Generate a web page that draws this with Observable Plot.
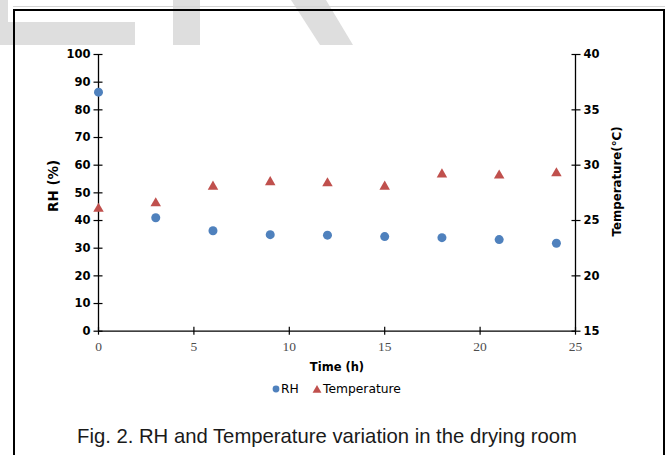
<!DOCTYPE html>
<html>
<head>
<meta charset="utf-8">
<script src="https://cdn.jsdelivr.net/npm/d3@7"></script>
<script src="https://cdn.jsdelivr.net/npm/@observablehq/plot@0.6"></script>
<style>
  html, body { margin: 0; padding: 0; background: #fff; }
  #wrap { position: relative; width: 668px; height: 455px; overflow: hidden; background: #fff; }
  .wm { position: absolute; background: #dedede; }
  #topline { position: absolute; left: 13px; top: 6px; width: 652px; height: 1px; background: #d4d4d4; }
  #border { position: absolute; left: 13px; top: 9px; width: 648px; height: 470px; border: 2px solid #000; border-bottom: none; z-index: 5; }
  #chart { position: absolute; left: 0; top: 0; z-index: 2; }
  #legend { position: absolute; left: 0; top: 379px; z-index: 2; }
  #caption { position: absolute; left: 0; top: 420px; z-index: 2; }
</style>
</head>
<body>
<div id="wrap">
  <div class="wm" style="left:0;top:0;width:8px;height:45px;"></div>
  <div class="wm" style="left:0;top:22px;width:135px;height:23px;"></div>
  <div class="wm" style="left:173px;top:0;width:27px;height:45px;"></div>
  <svg width="668" height="60" style="position:absolute;left:0;top:0;"><polygon points="291,0 326,0 353,45 320,45" fill="#dedede"/></svg>
  <div id="topline"></div>
  <div id="border"></div>
  <div id="chart"></div>
  <div id="legend"></div>
  <div id="caption"></div>
</div>
<script>
// ---- data ----
const hours = [0, 3, 6, 9, 12, 15, 18, 21, 24];
const rhValues = [86.4, 41.0, 36.3, 34.9, 34.7, 34.2, 33.8, 33.1, 31.8];
const temperatureValues = [26.2, 26.7, 28.2, 28.6, 28.5, 28.2, 29.3, 29.2, 29.4];
const timeTicks = [0, 5, 10, 15, 20, 25];
const rhTicks = [0, 10, 20, 30, 40, 50, 60, 70, 80, 90, 100];
const tempTicks = [15, 20, 25, 30, 35, 40];
const seriesNames = ["RH", "Temperature"];
const seriesColors = ["#4f81bd", "#c0504d"];
const xLabel = "Time (h)";
const yLabel = "RH (%)";
const y2Label = "Temperature(°C)";
const captionText = "Fig. 2. RH and Temperature variation in the drying room";

// secondary axis mapping (temperature domain onto RH domain)
const rhDomain = [0, 100];
const tempDomain = [15, 40];
const toY = t => (t - tempDomain[0]) / (tempDomain[1] - tempDomain[0]) * (rhDomain[1] - rhDomain[0]) + rhDomain[0];
const fromY = y => (y - rhDomain[0]) / (rhDomain[1] - rhDomain[0]) * (tempDomain[1] - tempDomain[0]) + tempDomain[0];

const table = hours.map((h, i) => ({time: h, rh: rhValues[i], temp: temperatureValues[i]}));

const FONT = "DejaVu Sans, sans-serif";

const chart = Plot.plot({
  width: 668,
  height: 400,
  marginLeft: 98,
  marginRight: 93,
  marginTop: 54,
  marginBottom: 69.3,
  x: {domain: [0, 25]},
  y: {domain: rhDomain},
  style: {fontFamily: FONT, background: "transparent", overflow: "visible", color: "#000"},
  marks: [
    // left axis: crossing ticks + labels
    Plot.axisY(rhTicks, {anchor: "left", tickSize: 9, dx: 4.5, tickFormat: () => "", label: null, strokeWidth: 1.2}),
    Plot.axisY(rhTicks, {anchor: "left", tickSize: 0, tickPadding: 8, label: null, fontWeight: "bold", fontSize: 11.5, fill: "#000"}),
    // right axis (temperature)
    Plot.axisY(tempTicks.map(toY), {anchor: "right", tickSize: 9, dx: -4.5, tickFormat: () => "", label: null, strokeWidth: 1.2}),
    Plot.axisY(tempTicks.map(toY), {anchor: "right", tickSize: 0, tickPadding: 8, label: null, tickFormat: d => String(Math.round(fromY(d))), fontWeight: "bold", fontSize: 11.5, fill: "#000"}),
    // x axis
    Plot.axisX(timeTicks, {anchor: "bottom", tickSize: 8, dy: -4, tickFormat: () => "", label: null, strokeWidth: 1.2}),
    Plot.axisX(timeTicks, {anchor: "bottom", tickSize: 0, tickPadding: 10, label: null, fontFamily: "Liberation Serif, serif", fontSize: 13.5, fill: "#4d4d4d"}),
    // axis lines
    Plot.ruleX([0, 25], {stroke: "#000", strokeWidth: 1.3}),
    Plot.ruleY([0], {stroke: "#000", strokeWidth: 1.3}),
    // series
    Plot.dot(table, {x: "time", y: "rh", r: 4.5, fill: seriesColors[0], stroke: "none"}),
    Plot.dot(table, {x: "time", y: d => toY(d.temp), symbol: "triangle", r: 3.9, dy: 1.5, fill: seriesColors[1], stroke: "none"}),
    // axis titles
    Plot.text([xLabel], {text: d => d, frameAnchor: "bottom", textAnchor: "middle", lineAnchor: "middle", dy: 36, fontWeight: "bold", fontSize: 11.5, fill: "#000"}),
    Plot.text([yLabel], {text: d => d, frameAnchor: "left", textAnchor: "middle", lineAnchor: "middle", dx: -45, dy: -7, rotate: -90, fontWeight: "bold", fontSize: 13.5, fill: "#000"}),
    Plot.text([y2Label], {text: d => d, frameAnchor: "right", textAnchor: "middle", lineAnchor: "middle", dx: 42, dy: -11.4, rotate: -90, fontWeight: "bold", fontSize: 11.8, fill: "#000"})
  ]
});
document.getElementById("chart").appendChild(chart);

// ---- legend ----
const lg = d3.select("#legend").append("svg").attr("width", 668).attr("height", 22);
const cy = 10;
lg.append("circle").attr("cx", 276).attr("cy", cy).attr("r", 3.4).attr("fill", seriesColors[0]);
lg.append("text").attr("x", 281).attr("y", cy + 4.3).attr("font-family", FONT).attr("font-size", 12.3).attr("fill", "#000").text(seriesNames[0]);
lg.append("path").attr("d", d3.symbol(d3.symbolTriangle, 34)()).attr("transform", `translate(317,${cy + 1.2})`).attr("fill", seriesColors[1]);
lg.append("text").attr("x", 323).attr("y", cy + 4.3).attr("font-family", FONT).attr("font-size", 12.3).attr("fill", "#000").text(seriesNames[1]);

// ---- caption ----
const cp = d3.select("#caption").append("svg").attr("width", 668).attr("height", 35);
cp.append("text").attr("x", 77).attr("y", 23).attr("font-family", "Liberation Sans, Arial, sans-serif")
  .attr("font-size", 21).attr("fill", "#1a1a1a").attr("textLength", 500).attr("lengthAdjust", "spacingAndGlyphs")
  .text(captionText);
</script>
</body>
</html>
